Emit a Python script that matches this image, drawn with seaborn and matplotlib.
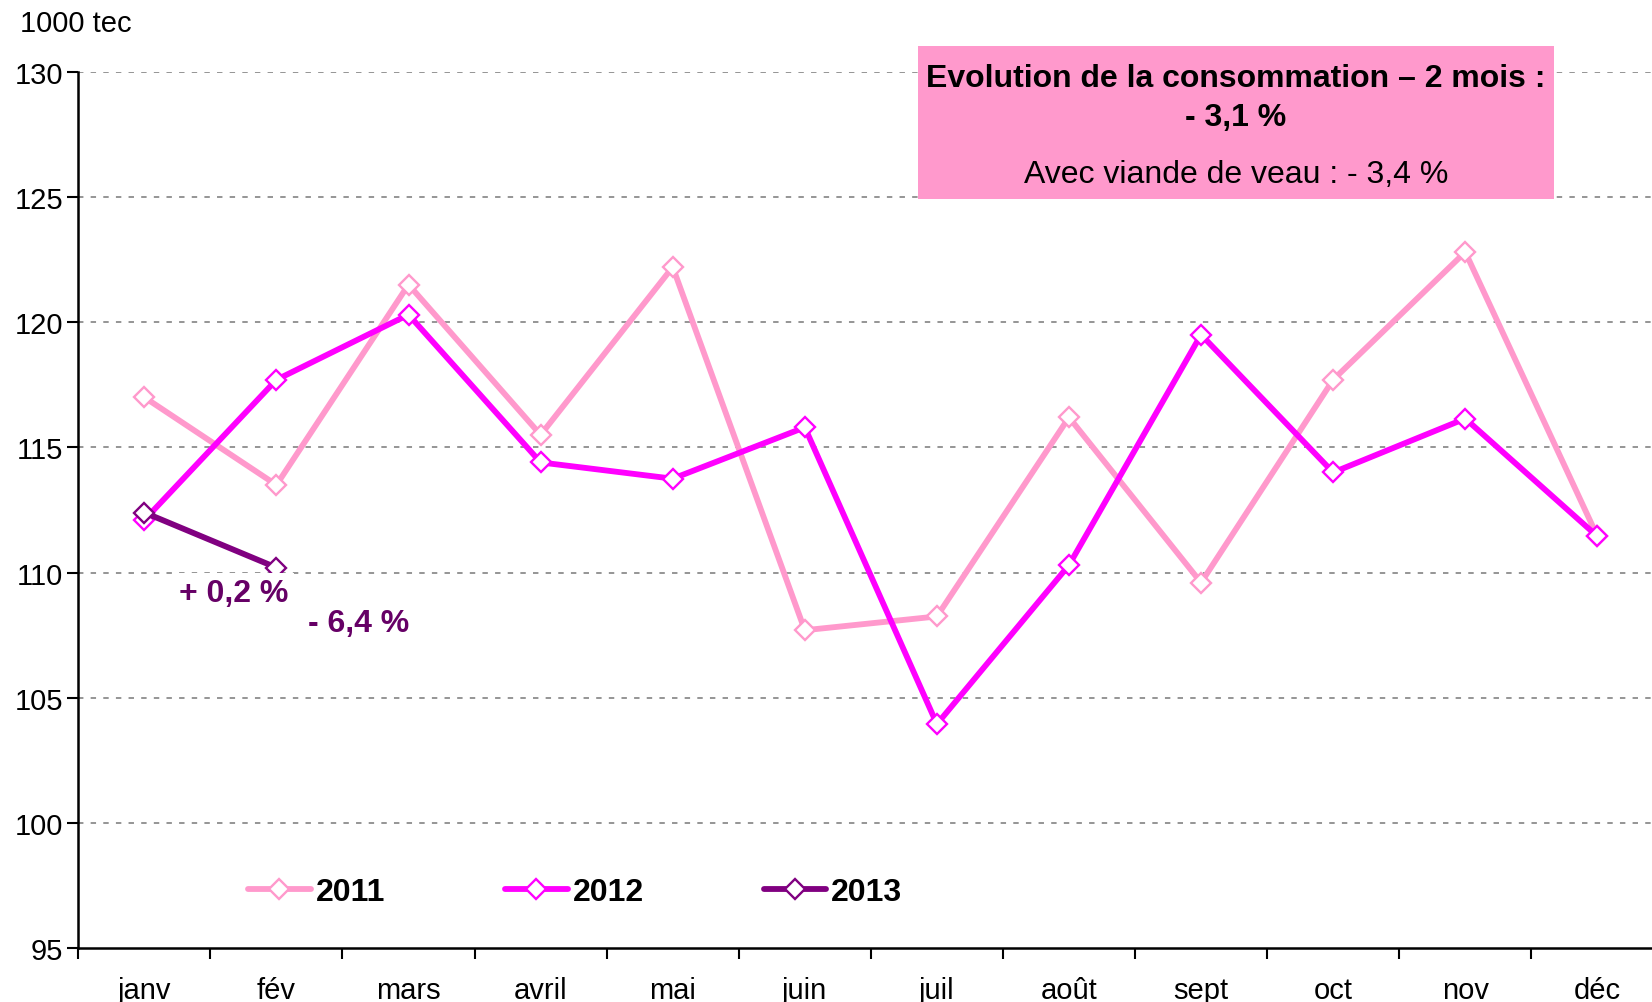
import matplotlib
matplotlib.use("Agg")
import matplotlib.pyplot as plt
import seaborn as sns
import pandas as pd
from matplotlib.patches import Rectangle
from matplotlib.ticker import FixedLocator, NullFormatter

months = ["janv", "fév", "mars", "avril", "mai", "juin", "juil", "août", "sept", "oct", "nov", "déc"]
v2011 = [117.0, 113.5, 121.5, 115.5, 122.2, 107.7, 108.25, 116.2, 109.6, 117.7, 122.8, 111.45]
v2012 = [112.1, 117.7, 120.3, 114.4, 113.75, 115.8, 103.95, 110.3, 119.5, 114.0, 116.15, 111.45]
v2013 = [112.4, 110.2]
years = ["2011", "2012", "2013"]
colors = ["#FF99CC", "#FF00FF", "#800080"]
ylabel = "1000 tec"
box_line1 = "Evolution de la consommation – 2 mois :"
box_line2 = "- 3,1 %"
box_line3 = "Avec viande de veau : - 3,4 %"
note_jan = "+ 0,2 %"
note_feb = "- 6,4 %"

sns.set_theme(style="white")
plt.rcParams["font.family"] = ["Liberation Sans", "DejaVu Sans"]
plt.rcParams["text.color"] = "black"
plt.rcParams["xtick.color"] = "black"
plt.rcParams["ytick.color"] = "black"

fig = plt.figure(figsize=(16.52, 10.03), dpi=100)
ax = fig.add_axes([78.3 / 1652, (1003 - 949.3) / 1003, (1663.4 - 78.3) / 1652, (949.3 - 72.7) / 1003])

series = [v2011, v2012, v2013]
for yr, vals, col in zip(years, series, colors):
    df = pd.DataFrame({"x": list(range(len(vals))), "y": vals})
    sns.lineplot(data=df, x="x", y="y", ax=ax, color=col, lw=4.2, marker="D",
                 markersize=10, markerfacecolor="white", markeredgecolor=col,
                 markeredgewidth=1.7, label=yr, sort=False, zorder=3 + years.index(yr))

ax.set_xlim(-0.5, 11.5)
ax.set_ylim(95, 130)
ax.set_yticks(range(95, 131, 5))
ax.tick_params(axis="y", labelsize=21, length=8, width=1.5, direction="out", left=True, pad=3)
ax.set_xticks(range(12))
ax.set_xticklabels(months)
ax.tick_params(axis="x", which="major", length=0, labelsize=21, pad=20)
ax.xaxis.set_minor_locator(FixedLocator([i - 0.5 for i in range(13)]))
ax.xaxis.set_minor_formatter(NullFormatter())
ax.tick_params(axis="x", which="minor", length=8, width=1.5, direction="out", bottom=True, color="black")
ax.set_xlabel("")
ax.set_ylabel("")
for y in range(100, 131, 5):
    ax.axhline(y, color="#8c8c8c", lw=1.3, ls=(0, (3, 4)), zorder=1)
for s in ["top", "right"]:
    ax.spines[s].set_visible(False)
for s in ["left", "bottom"]:
    ax.spines[s].set_color("black")
    ax.spines[s].set_linewidth(1.8)

fig.text(20 / 1652, 1 - 24 / 1003, ylabel, fontsize=21, va="center", ha="left")

leg = ax.legend(loc="center left", bbox_to_anchor=(0.097, 0.064), ncol=3, frameon=False,
                prop={"weight": "bold", "size": 23}, handlelength=1.97, handletextpad=0.15,
                columnspacing=3.75, borderpad=0)

ax.text(0.68, 109.2, note_jan, fontsize=23, fontweight="bold", color="#660066", ha="center", va="center",
        zorder=10, bbox=dict(boxstyle="square,pad=0.15", fc="white", ec="none"))
ax.text(1.62, 108.0, note_feb, fontsize=23, fontweight="bold", color="#660066", ha="center", va="center", zorder=10)

fig.patches.append(Rectangle((918 / 1652, 1 - 200 / 1003), (1554 - 918) / 1652, (200 - 47) / 1003,
                             transform=fig.transFigure, fc="#FF99CC", ec="none", zorder=20))
cx = 1236 / 1652
fig.text(cx, 1 - 79 / 1003, box_line1, fontsize=23, fontweight="bold", ha="center", va="center", zorder=21)
fig.text(cx, 1 - 118 / 1003, box_line2, fontsize=23, fontweight="bold", ha="center", va="center", zorder=21)
fig.text(cx, 1 - 175 / 1003, box_line3, fontsize=23, ha="center", va="center", zorder=21)

fig.savefig("out.png", dpi=100)
